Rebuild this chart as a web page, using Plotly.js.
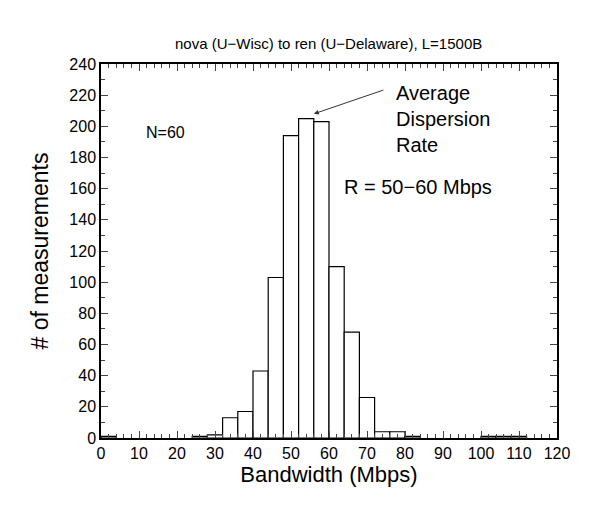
<!DOCTYPE html>
<html>
<head>
<script src="https://cdn.plot.ly/plotly-3.0.1.min.js"></script>
<style>body{margin:0;background:#fff}</style>
</head>
<body>
<div id="myPlot" style="width:603px;height:511px"></div>
<script>
// Histogram bins (4 Mbps wide) and counts
const binCenters = [2, 26, 30, 34, 38, 42, 46, 50, 54, 58, 62, 66, 70, 74, 78, 82, 102, 106, 110];
const binCounts  = [1, 1, 2, 13, 17, 43, 103, 194, 205, 203, 110, 68, 26, 4, 4, 1, 1, 1, 1];
const binWidth = 4;

const data = [{
  x: binCenters,
  y: binCounts,
  type: 'bar',
  width: binWidth,
  marker: {color: 'white', line: {color: 'black', width: 1.2}},
  hoverinfo: 'x+y'
}];

const font = {family: 'Liberation Sans, Arial, sans-serif', color: 'black'};

const layout = {
  width: 603, height: 511,
  margin: {l: 101, r: 46, t: 64, b: 73},
  paper_bgcolor: 'white', plot_bgcolor: 'white',
  font: font,
  showlegend: false,
  title: {text: 'nova (U\u2212Wisc) to ren (U\u2212Delaware), L=1500B', font: {size: 15}, x: 0.545, y: 0.925},
  xaxis: {
    range: [0, 120], dtick: 10, ticks: 'inside', ticklen: 7, mirror: 'allticks',
    showline: true, linecolor: 'black', linewidth: 1.5, showgrid: false, zeroline: false,
    tickfont: {size: 16},
    minor: {dtick: 2, ticks: 'inside', ticklen: 4, showgrid: false},
    title: {text: 'Bandwidth (Mbps)', font: {size: 22}, standoff: 4}
  },
  yaxis: {
    range: [0, 240], dtick: 20, ticks: 'inside', ticklen: 7, mirror: 'allticks',
    showline: true, linecolor: 'black', linewidth: 1.5, showgrid: false, zeroline: false,
    tickfont: {size: 16},
    minor: {dtick: 10, ticks: 'inside', ticklen: 4, showgrid: false},
    title: {text: '# of measurements', font: {size: 23}, standoff: 14}
  },
  annotations: [
    {x: 17, y: 196, text: 'N=60', showarrow: false, font: {size: 16}},
    {x: 77, y: 205, xanchor: 'left', yanchor: 'middle', align: 'left',
     text: 'Average<br>Dispersion<br>Rate', showarrow: false, font: {size: 20}},
    {x: 56, y: 208, ax: 74.7, ay: 223.6, axref: 'x', ayref: 'y', text: '',
     showarrow: true, arrowhead: 2, arrowsize: 1, arrowwidth: 1, arrowcolor: '#333'},
    {x: 63.5, y: 161, xanchor: 'left', text: 'R = 50\u221260 Mbps', showarrow: false, font: {size: 20}}
  ]
};

Plotly.newPlot('myPlot', data, layout, {displayModeBar: false});
</script>
</body>
</html>
